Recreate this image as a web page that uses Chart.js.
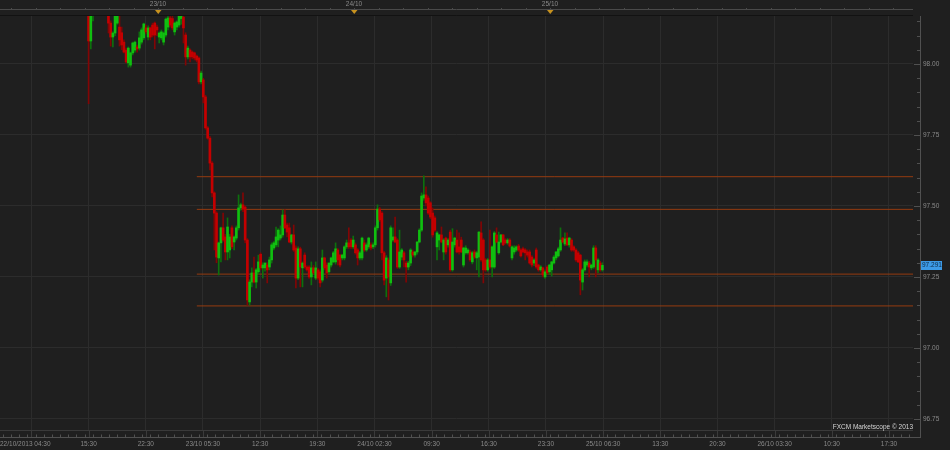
<!DOCTYPE html>
<html>
<head>
<meta charset="utf-8">
<script src="https://cdn.jsdelivr.net/npm/chart.js@4.4.0/dist/chart.umd.min.js"></script>
<style>
  html, body { margin: 0; padding: 0; background: #1f1f1f; }
  #wrap { width: 950px; height: 450px; }
</style>
</head>
<body>
<div id="wrap"><canvas id="chart" width="950" height="450"></canvas></div>
<script>
// USD/JPY candles, 22/10 15:30 onwards (hours counted from 22/10 00:00)
const barStartHour = 15.5;
const barMinutes = 16.2;

const opens = [
  98.20, 98.081, 98.19, 98.21, 98.195, 98.23, 98.215, 98.20, 98.22, 98.19,
  98.144, 98.095, 98.109, 98.144, 98.13, 98.11, 98.077, 98.049, 98.004, 97.996,
  98.039, 98.049, 98.06, 98.056, 98.077, 98.092, 98.127, 98.095, 98.127, 98.137,
  98.144, 98.13, 98.095, 98.092, 98.077, 98.102, 98.13, 98.162, 98.16, 98.113,
  98.13, 98.137, 98.16, 98.165, 98.102, 98.025, 98.049, 98.042, 98.039, 98.028,
  98.021, 97.937, 97.944, 97.884, 97.775, 97.739, 97.651, 97.546, 97.475, 97.317,
  97.37, 97.423, 97.391, 97.338, 97.345, 97.423, 97.373, 97.387, 97.423, 97.493,
  97.504, 97.496, 97.38, 97.162, 97.232, 97.264, 97.232, 97.268, 97.33, 97.282,
  97.282, 97.292, 97.285, 97.31, 97.352, 97.363, 97.38, 97.387, 97.398, 97.468,
  97.433, 97.423, 97.373, 97.398, 97.352, 97.246, 97.349, 97.282, 97.327, 97.285,
  97.285, 97.25, 97.282, 97.246, 97.275, 97.268, 97.239, 97.317, 97.292, 97.268,
  97.292, 97.303, 97.303, 97.345, 97.327, 97.317, 97.317, 97.356, 97.37, 97.38,
  97.356, 97.363, 97.345, 97.317, 97.317, 97.37, 97.345, 97.356, 97.363, 97.356,
  97.363, 97.423, 97.489, 97.475, 97.335, 97.246, 97.31, 97.229, 97.38, 97.391,
  97.38, 97.285, 97.32, 97.335, 97.299, 97.285, 97.299, 97.338, 97.327, 97.338,
  97.373, 97.415, 97.528, 97.539, 97.528, 97.511, 97.475, 97.458, 97.356, 97.38,
  97.398, 97.338, 97.387, 97.363, 97.408, 97.275, 97.363, 97.38, 97.356, 97.38,
  97.292, 97.335, 97.335, 97.338, 97.303, 97.338, 97.317, 97.32, 97.405, 97.38,
  97.31, 97.275, 97.31, 97.285, 97.285, 97.398, 97.335, 97.373, 97.398, 97.38,
  97.37, 97.38, 97.317, 97.338, 97.345, 97.359, 97.345, 97.349, 97.345, 97.338,
  97.338, 97.32, 97.299, 97.345, 97.292, 97.275, 97.282, 97.25, 97.285, 97.268,
  97.275, 97.299, 97.317, 97.324, 97.345, 97.387, 97.366, 97.387, 97.363, 97.38,
  97.356, 97.345, 97.335, 97.327, 97.232, 97.275, 97.292, 97.299, 97.282, 97.285,
  97.352, 97.275, 97.299, 97.275
];
const highs = [
  98.22, 98.208, 98.22, 98.24, 98.25, 98.26, 98.235, 98.24, 98.23, 98.20,
  98.152, 98.113, 98.18, 98.20, 98.17, 98.13, 98.085, 98.056, 98.06, 98.042,
  98.077, 98.081, 98.067, 98.113, 98.127, 98.144, 98.137, 98.134, 98.13, 98.144,
  98.148, 98.137, 98.113, 98.12, 98.113, 98.162, 98.169, 98.169, 98.169, 98.148,
  98.152, 98.18, 98.18, 98.175, 98.11, 98.063, 98.053, 98.046, 98.042, 98.032,
  98.025, 97.975, 97.95, 97.89, 97.78, 97.745, 97.656, 97.55, 97.48, 97.373,
  97.426, 97.475, 97.40, 97.458, 97.40, 97.43, 97.395, 97.43, 97.539, 97.51,
  97.546, 97.50, 97.385, 97.24, 97.282, 97.32, 97.28, 97.327, 97.335, 97.30,
  97.30, 97.30, 97.32, 97.37, 97.375, 97.426, 97.42, 97.43, 97.486, 97.486,
  97.44, 97.44, 97.40, 97.433, 97.36, 97.356, 97.355, 97.303, 97.335, 97.29,
  97.29, 97.303, 97.29, 97.303, 97.28, 97.275, 97.345, 97.32, 97.30, 97.30,
  97.32, 97.34, 97.37, 97.35, 97.33, 97.33, 97.36, 97.38, 97.423, 97.385,
  97.394, 97.37, 97.35, 97.34, 97.39, 97.38, 97.37, 97.39, 97.37, 97.37,
  97.43, 97.504, 97.495, 97.48, 97.34, 97.325, 97.317, 97.43, 97.423, 97.461,
  97.385, 97.415, 97.35, 97.34, 97.305, 97.305, 97.35, 97.345, 97.34, 97.375,
  97.42, 97.546, 97.606, 97.567, 97.535, 97.515, 97.493, 97.465, 97.41, 97.40,
  97.426, 97.385, 97.39, 97.385, 97.415, 97.42, 97.39, 97.415, 97.405, 97.39,
  97.355, 97.36, 97.35, 97.345, 97.34, 97.345, 97.34, 97.41, 97.444, 97.385,
  97.315, 97.315, 97.415, 97.36, 97.41, 97.423, 97.408, 97.40, 97.40, 97.385,
  97.385, 97.385, 97.36, 97.36, 97.36, 97.365, 97.35, 97.355, 97.35, 97.345,
  97.345, 97.325, 97.315, 97.352, 97.295, 97.29, 97.285, 97.275, 97.29, 97.295,
  97.305, 97.325, 97.34, 97.355, 97.423, 97.39, 97.405, 97.405, 97.39, 97.385,
  97.36, 97.35, 97.34, 97.33, 97.28, 97.31, 97.31, 97.305, 97.295, 97.36,
  97.36, 97.315, 97.305, 97.30
];
const lows = [
  97.86, 98.053, 98.152, 98.18, 98.185, 98.20, 98.19, 98.185, 98.18, 98.109,
  98.063, 98.06, 98.10, 98.14, 98.063, 98.05, 98.039, 98.004, 97.989, 97.989,
  98.032, 98.042, 98.042, 98.049, 98.07, 98.085, 98.106, 98.085, 98.085, 98.095,
  98.053, 98.10, 98.074, 98.085, 98.067, 98.095, 98.12, 98.13, 98.12, 98.102,
  98.12, 98.13, 98.14, 98.074, 97.996, 98.018, 98.007, 98.018, 98.014, 98.007,
  97.93, 97.93, 97.863, 97.77, 97.735, 97.627, 97.532, 97.345, 97.30, 97.257,
  97.303, 97.375, 97.31, 97.31, 97.317, 97.35, 97.345, 97.38, 97.415, 97.485,
  97.48, 97.37, 97.151, 97.151, 97.215, 97.229, 97.211, 97.26, 97.275, 97.246,
  97.27, 97.229, 97.275, 97.299, 97.345, 97.356, 97.356, 97.38, 97.39, 97.42,
  97.391, 97.37, 97.366, 97.34, 97.211, 97.24, 97.215, 97.215, 97.28, 97.27,
  97.245, 97.222, 97.26, 97.24, 97.24, 97.215, 97.232, 97.275, 97.246, 97.26,
  97.285, 97.30, 97.295, 97.292, 97.285, 97.31, 97.31, 97.35, 97.35, 97.35,
  97.35, 97.33, 97.292, 97.31, 97.31, 97.34, 97.34, 97.35, 97.345, 97.35,
  97.355, 97.415, 97.445, 97.31, 97.222, 97.18, 97.169, 97.22, 97.375, 97.37,
  97.28, 97.28, 97.31, 97.285, 97.232, 97.275, 97.29, 97.32, 97.32, 97.33,
  97.37, 97.41, 97.52, 97.50, 97.47, 97.455, 97.39, 97.41, 97.31, 97.345,
  97.37, 97.31, 97.33, 97.355, 97.27, 97.27, 97.355, 97.335, 97.33, 97.335,
  97.285, 97.33, 97.33, 97.305, 97.296, 97.315, 97.275, 97.25, 97.305, 97.229,
  97.27, 97.27, 97.28, 97.25, 97.28, 97.37, 97.33, 97.37, 97.36, 97.366,
  97.365, 97.355, 97.31, 97.33, 97.34, 97.34, 97.32, 97.335, 97.31, 97.32,
  97.295, 97.285, 97.29, 97.28, 97.27, 97.27, 97.25, 97.245, 97.26, 97.26,
  97.253, 97.295, 97.31, 97.32, 97.34, 97.37, 97.36, 97.36, 97.355, 97.34,
  97.34, 97.305, 97.30, 97.187, 97.204, 97.27, 97.285, 97.25, 97.275, 97.28,
  97.25, 97.265, 97.27, 97.27
];
const closes = [
  98.081, 98.19, 98.21, 98.195, 98.23, 98.215, 98.20, 98.22, 98.19, 98.144,
  98.095, 98.109, 98.175, 98.185, 98.085, 98.067, 98.042, 98.007, 98.056, 98.039,
  98.074, 98.077, 98.053, 98.092, 98.12, 98.141, 98.113, 98.127, 98.095, 98.102,
  98.102, 98.12, 98.109, 98.113, 98.109, 98.158, 98.162, 98.137, 98.127, 98.144,
  98.148, 98.173, 98.17, 98.127, 98.025, 98.056, 98.025, 98.025, 98.021, 98.014,
  97.937, 97.968, 97.884, 97.775, 97.739, 97.651, 97.546, 97.475, 97.32, 97.37,
  97.423, 97.38, 97.338, 97.426, 97.391, 97.356, 97.391, 97.423, 97.493, 97.504,
  97.489, 97.38, 97.169, 97.232, 97.264, 97.232, 97.275, 97.303, 97.282, 97.292,
  97.299, 97.275, 97.31, 97.363, 97.37, 97.391, 97.415, 97.398, 97.468, 97.423,
  97.408, 97.373, 97.398, 97.345, 97.246, 97.349, 97.285, 97.299, 97.285, 97.275,
  97.25, 97.282, 97.264, 97.282, 97.246, 97.229, 97.317, 97.282, 97.264, 97.299,
  97.317, 97.335, 97.349, 97.31, 97.292, 97.327, 97.356, 97.37, 97.356, 97.356,
  97.38, 97.335, 97.317, 97.335, 97.387, 97.345, 97.363, 97.387, 97.352, 97.363,
  97.423, 97.489, 97.451, 97.335, 97.239, 97.317, 97.25, 97.423, 97.391, 97.373,
  97.285, 97.338, 97.345, 97.31, 97.285, 97.299, 97.345, 97.327, 97.338, 97.373,
  97.415, 97.535, 97.539, 97.511, 97.475, 97.461, 97.398, 97.415, 97.405, 97.398,
  97.373, 97.38, 97.338, 97.38, 97.275, 97.373, 97.387, 97.338, 97.338, 97.338,
  97.352, 97.352, 97.345, 97.31, 97.335, 97.32, 97.335, 97.408, 97.31, 97.275,
  97.275, 97.31, 97.285, 97.356, 97.405, 97.373, 97.373, 97.398, 97.363, 97.37,
  97.38, 97.359, 97.356, 97.352, 97.356, 97.345, 97.324, 97.338, 97.335, 97.327,
  97.299, 97.292, 97.31, 97.285, 97.275, 97.285, 97.257, 97.268, 97.264, 97.292,
  97.303, 97.32, 97.338, 97.349, 97.38, 97.373, 97.384, 97.363, 97.387, 97.345,
  97.345, 97.31, 97.303, 97.239, 97.275, 97.303, 97.303, 97.285, 97.292, 97.352,
  97.31, 97.31, 97.275, 97.291
];

// horizontal level lines drawn from 23/10 04:45
const levels = [97.603, 97.488, 97.260, 97.148];
const levelStartHour = 28.75;

// axes
const xMin = 4.65, xMax = 116.44;
const yMin = 96.711, yMax = 98.169;
const xTickHours = [8.5, 15.5, 22.5, 29.5, 36.5, 43.5, 50.5, 57.5, 64.5, 71.5, 78.5, 85.5, 92.5, 99.5, 106.5, 113.5];
const xTickLabels = ['', '15:30', '22:30', '23/10 05:30', '12:30', '19:30', '24/10 02:30', '09:30',
  '16:30', '23:30', '25/10 06:30', '13:30', '20:30', '26/10 03:30', '10:30', '17:30'];
const firstXLabel = '22/10/2013 04:30';
const dayHours = [24, 48, 72];
const dayLabels = ['23/10', '24/10', '25/10'];
const yTicks = [96.75, 97.00, 97.25, 97.50, 97.75, 98.00];

const gridColor = '#2c2c2c';
const labelColor = '#8a8a8a';
const axisColor = '#505050';
const fontFamily = '"Liberation Sans", Arial, sans-serif';
const fontSize = 6.5;

Chart.defaults.font.family = fontFamily;

const candleX = opens.map((o, i) => barStartHour + i * barMinutes / 60);
const isUp = i => closes[i] >= opens[i];

const decor = {
  id: 'decor',
  afterDraw(chart) {
    const { ctx, chartArea: a, scales: { x, y } } = chart;
    ctx.save();
    ctx.lineWidth = 1;

    // top time ruler
    ctx.strokeStyle = '#4a4a4a';
    ctx.beginPath();
    ctx.moveTo(0, 9.5); ctx.lineTo(a.right, 9.5);
    for (let h = 6; h < xMax; h += 3) {
      const px = Math.round(x.getPixelForValue(h)) + 0.5;
      ctx.moveTo(px, 8); ctx.lineTo(px, 10);
    }
    ctx.stroke();
    ctx.strokeStyle = '#121212';
    ctx.beginPath(); ctx.moveTo(0, 15.5); ctx.lineTo(a.right, 15.5); ctx.stroke();

    ctx.font = fontSize + 'px ' + fontFamily;
    ctx.textBaseline = 'middle';
    ctx.textAlign = 'center';
    dayHours.forEach((h, i) => {
      const px = Math.round(x.getPixelForValue(h));
      ctx.fillStyle = labelColor;
      ctx.fillText(dayLabels[i], px, 4.5);
      ctx.fillStyle = '#c7921f';
      ctx.beginPath();
      ctx.moveTo(px - 3, 10); ctx.lineTo(px + 3.5, 10); ctx.lineTo(px + 0.25, 14);
      ctx.closePath(); ctx.fill();
    });

    // bottom axis
    ctx.strokeStyle = axisColor;
    ctx.beginPath();
    ctx.moveTo(0, 437.5); ctx.lineTo(921, 437.5);
    for (let h = 5; h < xMax; h += 1) {
      const px = Math.round(x.getPixelForValue(h)) + 0.5;
      ctx.moveTo(px, 434.5); ctx.lineTo(px, 437);
    }
    ctx.stroke();
    ctx.strokeStyle = '#3a3a3a';
    ctx.beginPath();
    xTickHours.forEach(h => {
      const px = Math.round(x.getPixelForValue(h)) + 0.5;
      ctx.moveTo(px, a.bottom); ctx.lineTo(px, 437);
    });
    ctx.moveTo(0, a.bottom + 0.5); ctx.lineTo(a.right, a.bottom + 0.5);
    ctx.stroke();
    ctx.fillStyle = labelColor;
    ctx.textAlign = 'left';
    ctx.fillText(firstXLabel, 0, 444);

    // right axis
    ctx.strokeStyle = axisColor;
    ctx.beginPath();
    ctx.moveTo(920.5, a.top); ctx.lineTo(920.5, 438);
    for (let v = 96.75; v < yMax; v += 0.05) {
      const py = Math.round(y.getPixelForValue(v)) + 0.5;
      const major = yTicks.some(t => Math.abs(t - v) < 0.001);
      ctx.moveTo(major ? 914 : 917, py); ctx.lineTo(920, py);
    }
    ctx.stroke();

    // last price tag
    const last = closes[closes.length - 1];
    const py = y.getPixelForValue(last);
    ctx.fillStyle = '#3d9ae6';
    ctx.fillRect(921, Math.round(py) - 4, 21, 9);
    ctx.fillStyle = '#0e2c48';
    ctx.textAlign = 'left';
    ctx.fillText(last.toFixed(3), 922, Math.round(py) + 0.5);

    // watermark
    ctx.fillStyle = '#d6d6d6';
    ctx.textAlign = 'right';
    ctx.fillText('FXCM Marketscope \u00a9 2013', 913, 427);
    ctx.restore();
  }
};

new Chart(document.getElementById('chart'), {
  type: 'bar',
  data: {
    datasets: [
      {
        label: 'body',
        data: opens.map((o, i) => ({ x: candleX[i], y: [o, closes[i]] })),
        backgroundColor: c => isUp(c.dataIndex) ? '#10bf10' : '#c40000',
        barThickness: 2,
        minBarLength: 1,
        grouped: false,
        order: 0,
        clip: 0
      },
      {
        label: 'wick',
        data: lows.map((l, i) => ({ x: candleX[i], y: [l, highs[i]] })),
        backgroundColor: c => isUp(c.dataIndex) ? '#0d700d' : '#820505',
        barThickness: 1,
        grouped: false,
        order: 1,
        clip: 0
      },
      ...levels.map(v => ({
        type: 'line',
        label: 'level',
        data: [{ x: levelStartHour, y: v }, { x: xMax, y: v }],
        borderColor: '#953b10',
        borderWidth: 1,
        pointRadius: 0,
        order: 2
      }))
    ]
  },
  options: {
    responsive: false,
    animation: false,
    devicePixelRatio: 1,
    layout: { padding: { top: 16, left: 0, right: 0, bottom: 0 } },
    plugins: { legend: { display: false }, tooltip: { enabled: false } },
    scales: {
      x: {
        type: 'linear',
        min: xMin,
        max: xMax,
        offset: false,
        afterFit: s => { s.height = 20; },
        afterBuildTicks: s => { s.ticks = xTickHours.map(v => ({ value: v })); },
        grid: { color: gridColor, drawTicks: false, offset: false },
        border: { display: false },
        ticks: {
          autoSkip: false,
          maxRotation: 0,
          padding: 10,
          color: labelColor,
          font: { size: fontSize },
          callback: v => xTickLabels[xTickHours.indexOf(v)] || ''
        }
      },
      y: {
        position: 'right',
        min: yMin,
        max: yMax,
        afterFit: s => { s.width = 37; },
        afterBuildTicks: s => { s.ticks = yTicks.map(v => ({ value: v })); },
        grid: { color: gridColor, drawTicks: false },
        border: { display: false },
        ticks: {
          padding: 10,
          color: labelColor,
          font: { size: fontSize },
          callback: v => v.toFixed(2)
        }
      }
    }
  },
  plugins: [decor]
});
</script>
</body>
</html>
